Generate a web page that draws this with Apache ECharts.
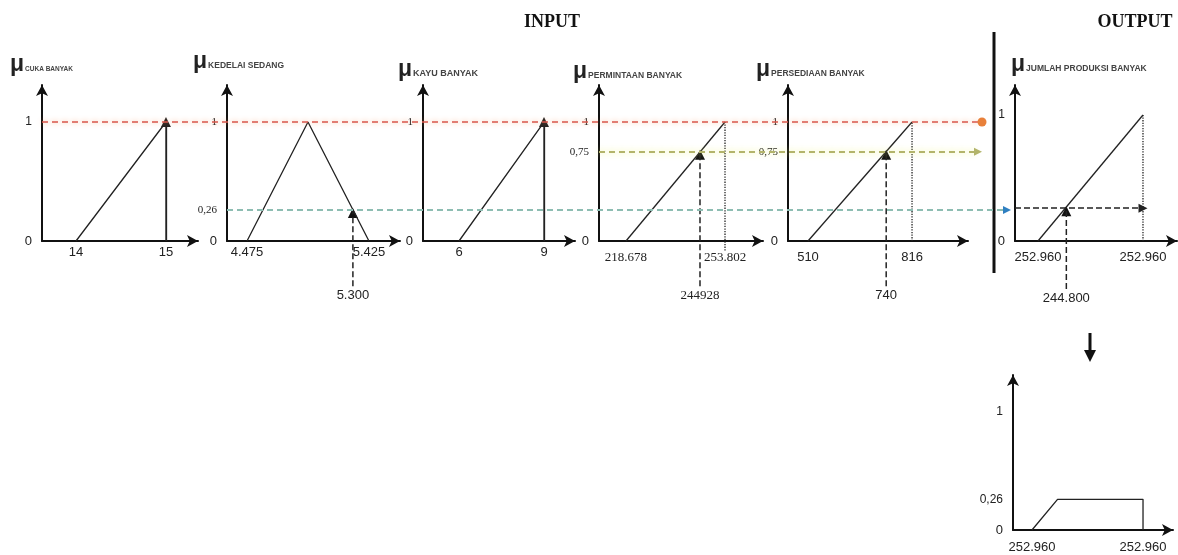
<!DOCTYPE html>
<html>
<head>
<meta charset="utf-8">
<script src="https://cdn.jsdelivr.net/npm/echarts@6/dist/echarts.min.js"></script>
<style>
  html, body { margin: 0; background: #fff; }
  #chart { width: 1178px; height: 555px; }
</style>
</head>
<body>
<div id="chart"></div>
<script>
// ---- values ----
const cukaX = [14, 15, 15];
const cukaMu = [0, 1, 0];
const cukaTicks = [14, 15];
const cukaTickLabels = ['14', '15'];

const kedelaiX = [4.475, 4.95, 5.425];
const kedelaiMu = [0, 1, 0];
const kedelaiTicks = [4.475, 5.425];
const kedelaiTickLabels = ['4.475', '5.425'];
const kedelaiInput = 5.3;
const kedelaiInputLabel = '5.300';
const kedelaiAlpha = 0.26;

const kayuX = [6, 9, 9];
const kayuMu = [0, 1, 0];
const kayuTicks = [6, 9];
const kayuTickLabels = ['6', '9'];

const permintaanX = [218.678, 253.802];
const permintaanMu = [0, 1];
const permintaanTicks = [218.678, 253.802];
const permintaanTickLabels = ['218.678', '253.802'];
const permintaanInput = 244.928;
const permintaanInputLabel = '244928';
const permintaanAlpha = 0.75;

const persediaanX = [510, 816];
const persediaanMu = [0, 1];
const persediaanTicks = [510, 816];
const persediaanTickLabels = ['510', '816'];
const persediaanInput = 740;
const persediaanInputLabel = '740';
const persediaanAlpha = 0.75;

// output axis labels in the source are not a real scale, so it runs 0..1
const produksiX = [0, 1];
const produksiMu = [0, 1];
const produksiTicks = [0, 1];
const produksiTickLabels = ['252.960', '252.960'];
const produksiCut = 0.27;
const produksiCutLabel = '244.800';
const produksiAlpha = 0.26;

const hasilX = [0, 0.23, 1, 1];
const hasilMu = [0, 0.26, 0.26, 0];
const hasilTicks = [0, 1];
const hasilTickLabels = ['252.960', '252.960'];

const SANS = '"Liberation Sans", Arial, sans-serif';
const SERIF = '"Liberation Serif", "Times New Roman", serif';
const INK = '#222';
const BELOW = -0.38;   // how far the input arrows reach under the x axis

const chart = echarts.init(document.getElementById('chart'));

const grids = [], xAxes = [], yAxes = [], series = [], titles = [];

function fmt(v) {
  return String(v).replace('.', ',');
}

function vline(i, x, from, to, type) {
  series.push({
    type: 'line', xAxisIndex: i, yAxisIndex: i, clip: false, symbol: 'none', silent: true,
    data: [[x, from], [x, to]],
    lineStyle: { type: type, color: INK, width: type === 'dotted' ? 1.3 : 1.5 }
  });
}

// dashed arrow from below the x axis up to the curve, with its value underneath
function inputArrow(i, x, mu, text, font) {
  vline(i, x, BELOW, mu, 'dashed');
  series.push({
    type: 'scatter', xAxisIndex: i, yAxisIndex: i, clip: false, silent: true,
    itemStyle: { color: '#111', opacity: 1 },
    data: [
      { value: [x, mu], symbol: 'triangle', symbolSize: 10, symbolOffset: [0, 3] },
      { value: [x, BELOW], symbolSize: 0,
        label: { show: true, position: 'bottom', distance: 3, formatter: text,
          fontFamily: font, fontSize: 13, color: INK } }
    ]
  });
}

function addPanel(p) {
  const i = grids.length;
  grids.push({ left: p.left, top: p.top, width: p.width, height: p.height, outerBoundsMode: 'none' });
  const axisLine = {
    onZero: false, symbol: ['none', 'arrow'], symbolSize: [9, 11],
    lineStyle: { color: '#111', width: 2 }
  };
  xAxes.push({
    gridIndex: i, type: 'value', min: p.xMin, max: p.xMax,
    axisLine: axisLine, axisTick: { show: false }, splitLine: { show: false },
    axisLabel: {
      customValues: p.ticks, margin: p.xMargin, color: INK,
      fontFamily: p.xFont, fontSize: 13,
      formatter: v => p.tickLabels[p.ticks.findIndex(t => Math.abs(t - v) < 1e-6)] || ''
    }
  });
  yAxes.push({
    gridIndex: i, type: 'value', min: 0, max: p.yMax,
    axisLine: axisLine, axisTick: { show: false }, splitLine: { show: false },
    axisLabel: {
      customValues: p.yTicks, margin: 10,
      formatter: v => v === 0 ? '{s|0}' : '{' + p.yFont + '|' + fmt(v) + '}',
      rich: {
        s: { fontFamily: SANS, fontSize: 13, color: INK },
        r: { fontFamily: SERIF, fontSize: 11, color: INK },
        q: { fontFamily: SANS, fontSize: 12, color: INK }
      }
    }
  });
  series.push({
    type: 'line', xAxisIndex: i, yAxisIndex: i, clip: false, symbol: 'none', silent: true,
    data: p.xs.map((x, k) => [x, p.mus[k]]),
    lineStyle: { color: INK, width: 1.3 },
    itemStyle: { color: '#111' },
    markLine: {
      silent: true, symbol: ['none', 'none'], symbolSize: 10,
      label: { show: false }, data: p.marks || []
    }
  });
  if (p.name) {
    titles.push({
      text: '{m|μ}{s|' + p.name + '}', left: p.titleLeft, top: p.titleTop, padding: 0,
      textStyle: {
        rich: {
          m: { fontFamily: SANS, fontSize: 23, fontWeight: 'bold', color: INK, verticalAlign: 'bottom' },
          s: { fontFamily: SANS, fontSize: p.sub, color: '#444', verticalAlign: 'bottom', padding: [0, 0, 3, 1] }
        }
      }
    });
  }
  return i;
}

// vertical edge of a shape with an arrow head at its top
function solidUp(x, mu) {
  return [
    { coord: [x, 0], symbol: 'none', lineStyle: { type: 'solid', color: INK, width: 1.3 } },
    { coord: [x, mu], symbol: 'triangle', symbolSize: 10 }
  ];
}

const TOP = 85, H = 156, YMAX = 1.311;

const P = [
  { name: 'CUKA BANYAK', sub: 6.5, titleLeft: 10, titleTop: 53,
    left: 42, width: 156, xMin: 13.622, xMax: 15.356,
    xs: cukaX, mus: cukaMu, ticks: cukaTicks, tickLabels: cukaTickLabels,
    xFont: SANS, xMargin: 5, yTicks: [0, 1], yFont: 'q',
    marks: [solidUp(15, 1)] },
  { name: 'KEDELAI SEDANG', sub: 8.5, titleLeft: 193, titleTop: 50,
    left: 227, width: 173, xMin: 4.319, xMax: 5.667,
    xs: kedelaiX, mus: kedelaiMu, ticks: kedelaiTicks, tickLabels: kedelaiTickLabels,
    xFont: SANS, xMargin: 5, yTicks: [0, kedelaiAlpha, 1], yFont: 'r' },
  { name: 'KAYU BANYAK', sub: 9, titleLeft: 398, titleTop: 58,
    left: 423, width: 152, xMin: 4.729, xMax: 10.094,
    xs: kayuX, mus: kayuMu, ticks: kayuTicks, tickLabels: kayuTickLabels,
    xFont: SANS, xMargin: 5, yTicks: [0, 1], yFont: 'r',
    marks: [solidUp(9, 1)] },
  { name: 'PERMINTAAN BANYAK', sub: 8.5, titleLeft: 573, titleTop: 60,
    left: 599, width: 164, xMin: 209.1, xMax: 267.28,
    xs: permintaanX, mus: permintaanMu, ticks: permintaanTicks, tickLabels: permintaanTickLabels,
    xFont: SERIF, xMargin: 10, yTicks: [0, permintaanAlpha, 1], yFont: 'r' },
  { name: 'PERSEDIAAN BANYAK', sub: 8.5, titleLeft: 756, titleTop: 58,
    left: 788, width: 180, xMin: 451.2, xMax: 980.6,
    xs: persediaanX, mus: persediaanMu, ticks: persediaanTicks, tickLabels: persediaanTickLabels,
    xFont: SANS, xMargin: 10, yTicks: [0, persediaanAlpha, 1], yFont: 'r' },
  { name: 'JUMLAH PRODUKSI BANYAK', sub: 8.5, titleLeft: 1011, titleTop: 53,
    left: 1015, width: 162, xMin: -0.219, xMax: 1.324, yMaxOwn: 1.238,
    xs: produksiX, mus: produksiMu, ticks: produksiTicks, tickLabels: produksiTickLabels,
    xFont: SANS, xMargin: 10, yTicks: [0, 1], yFont: 'q',
    marks: [[
      { coord: [-0.219, produksiAlpha], symbol: 'none', lineStyle: { type: 'dashed', color: INK, width: 1.5 } },
      { coord: [1, produksiAlpha], symbol: 'triangle', symbolSize: 9 }
    ]] }
];

const idx = P.map(p => addPanel(Object.assign({ top: TOP, height: H, yMax: p.yMaxOwn || YMAX }, p)));

inputArrow(idx[1], kedelaiInput, kedelaiAlpha, kedelaiInputLabel, SANS);
inputArrow(idx[3], permintaanInput, permintaanAlpha, permintaanInputLabel, SERIF);
vline(idx[3], permintaanX[1], -0.08, 1, 'dotted');
inputArrow(idx[4], persediaanInput, persediaanAlpha, persediaanInputLabel, SANS);
vline(idx[4], persediaanX[1], 0, 1, 'dotted');
inputArrow(idx[5], produksiCut, produksiAlpha, produksiCutLabel, SANS);
vline(idx[5], produksiX[1], 0, 1, 'dotted');

// result after defuzzification step
addPanel({
  left: 1013, top: 375, width: 160, height: 155, xMin: -0.171, xMax: 1.27, yMax: 1.314,
  xs: hasilX, mus: hasilMu, ticks: hasilTicks, tickLabels: hasilTickLabels,
  xFont: SANS, xMargin: 11, yTicks: [0, 0.26, 1], yFont: 'q'
});

// overlay grid for the alpha-cut guides running across panels (x in px of the layout)
const ov = grids.length;
const SEP_X = 994;
grids.push({ left: 0, top: TOP, width: 1178, height: H, outerBoundsMode: 'none' });
xAxes.push({ gridIndex: ov, type: 'value', min: 0, max: 1178, show: false });
yAxes.push({ gridIndex: ov, type: 'value', min: 0, max: YMAX, show: false });
series.push({
  type: 'line', xAxisIndex: ov, yAxisIndex: ov, clip: false, data: [], silent: true,
  markLine: {
    silent: true, symbol: ['none', 'none'], symbolSize: 9, label: { show: false },
    data: [
      [
        { coord: [P[0].left, 1], symbol: 'none',
          lineStyle: { type: [6, 4], color: '#d9574c', width: 1.6, shadowBlur: 5, shadowColor: 'rgba(245,140,80,0.7)' } },
        { coord: [SEP_X - 12, 1], symbol: 'none' }
      ],
      [
        { coord: [P[3].left, permintaanAlpha], symbol: 'none',
          lineStyle: { type: [6, 4], color: '#b3b46a', width: 1.8, shadowBlur: 6, shadowColor: 'rgba(235,240,110,0.9)' } },
        { coord: [SEP_X - 16, permintaanAlpha], symbol: 'triangle', symbolSize: 8 }
      ],
      [
        { coord: [P[1].left, kedelaiAlpha], symbol: 'none',
          lineStyle: { type: [6, 4], color: '#8dbdb2', width: 2 } },
        { coord: [P[5].left - 9, kedelaiAlpha], symbol: 'none' }
      ]
    ]
  },
  markPoint: {
    silent: true, label: { show: false },
    data: [
      { coord: [SEP_X - 12, 1], symbol: 'circle', symbolSize: 9, itemStyle: { color: '#e8803a' } },
      { coord: [P[5].left - 8, kedelaiAlpha], symbol: 'triangle', symbolRotate: -90, symbolSize: 8, itemStyle: { color: '#2f7fc1' } }
    ]
  }
});

chart.setOption({
  animation: false,
  title: titles,
  grid: grids,
  xAxis: xAxes,
  yAxis: yAxes,
  series: series,
  graphic: [
    { type: 'text', x: 552, y: 22, style: { text: 'INPUT', align: 'center', verticalAlign: 'middle',
      font: 'bold 18px "Liberation Serif"', fill: '#111' } },
    { type: 'text', x: 1135, y: 22, style: { text: 'OUTPUT', align: 'center', verticalAlign: 'middle',
      font: 'bold 18px "Liberation Serif"', fill: '#111' } },
    { type: 'line', shape: { x1: SEP_X, y1: 32, x2: SEP_X, y2: 273 }, style: { stroke: '#111', lineWidth: 3 } },
    { type: 'line', shape: { x1: 1090, y1: 333, x2: 1090, y2: 352 }, style: { stroke: '#111', lineWidth: 3 } },
    { type: 'polygon', shape: { points: [[1084, 350], [1096, 350], [1090, 362]] }, style: { fill: '#111' } }
  ]
});
</script>
</body>
</html>
